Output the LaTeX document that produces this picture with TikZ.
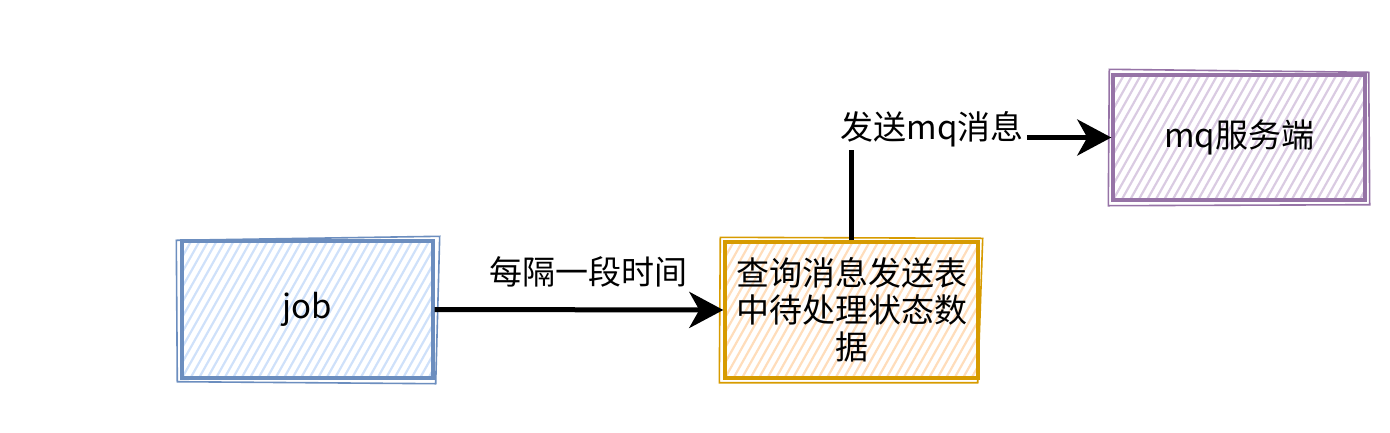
\documentclass[tikz,border=0pt]{standalone}
\usepackage{fontspec}
\setmainfont{Noto Sans CJK SC}
\usetikzlibrary{arrows.meta,calc}
\definecolor{bstroke}{HTML}{6C8EBF}
\definecolor{bfill}{HTML}{CFE1FA}
\definecolor{ostroke}{HTML}{D79B00}
\definecolor{ofill}{HTML}{FFDDBB}
\definecolor{pstroke}{HTML}{9673A6}
\definecolor{pfill}{HTML}{DACBE2}
\tikzset{
  hatched/.style={path picture={\foreach \i in {-14,...,32}{\draw[#1, line width=2.2pt] ($(path picture bounding box.south west)+(\i*8.5pt,0pt)$) -- ++(80pt,142pt);}}},
  sbox/.style n args={3}{draw=#1, line width=3.4pt, hatched=#2, minimum width=#3, align=center, inner sep=0pt},
  txt/.style={font=\fontsize{33}{37}\selectfont},
  conn/.style={line width=5pt, -{Stealth[length=34pt, width=36pt, inset=10pt]}},
  rough/.style={line width=1.6pt}
}
\begin{document}
\begin{tikzpicture}[x=1pt,y=-1pt]
\useasboundingbox (0,0) rectangle (1390,432);
\node[sbox={bstroke}{bfill}{251pt}, minimum height=137pt, txt] (job) at (307.5,309.5) {job};
\node[sbox={ostroke}{ofill}{253pt}, minimum height=136pt, txt] (proc) at (851.5,310) {查询消息发送表\\中待处理状态数\\据};
\node[sbox={pstroke}{pfill}{252pt}, minimum height=125pt, txt] (mq) at (1239,137.5) {mq服务端};
% rough second strokes
\draw[bstroke, rough] ([shift={(-4pt,-1pt)}]job.north west) -- ([shift={(5pt,3pt)}]job.north east) -- ([shift={(1pt,-4pt)}]job.south east) -- ([shift={(-3pt,-2pt)}]job.south west) -- cycle;
\draw[ostroke, rough] ([shift={(-3pt,3pt)}]proc.north west) -- ([shift={(3pt,2pt)}]proc.north east) -- ([shift={(-2pt,-3pt)}]proc.south east) -- ([shift={(-4pt,-3pt)}]proc.south west) -- cycle;
\draw[pstroke, rough] ([shift={(-2pt,4pt)}]mq.north west) -- ([shift={(2pt,1pt)}]mq.north east) -- ([shift={(3pt,-3pt)}]mq.south east) -- ([shift={(-3pt,-4pt)}]mq.south west) -- cycle;
% connectors
\draw[conn] (job.east) -- (proc.west);
\node[txt, inner sep=0pt] (lbla) at (588,272) {每隔一段时间};
\coordinate (bend) at (proc.north |- mq.west);
\draw[conn] (proc.north) -- (bend) -- (mq.west);
\node[txt, fill=white, inner sep=3pt] (lblb) at (932,129) {发送mq消息};
\end{tikzpicture}
\end{document}
